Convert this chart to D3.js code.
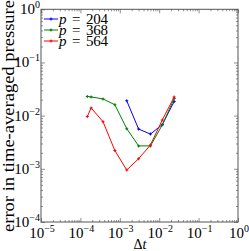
<!DOCTYPE html>
<html>
<head>
<meta charset="utf-8">
<script src="https://cdn.jsdelivr.net/npm/d3@7"></script>
<style>
  body { margin: 0; background: #fff; }
  svg { display: block; }
  text { font-family: "Liberation Serif", "DejaVu Serif", serif; fill: #000; }
</style>
</head>
<body>
<div id="chart"></div>
<script>
// time steps and errors
const dtLong = [1.5e-4, 1.875e-4, 3.75e-4, 7.5e-4, 1.5e-3, 3e-3, 6e-3, 1.2e-2, 2.4e-2]
const dtShort = [1.5e-3, 3e-3, 6e-3, 1.2e-2, 2.4e-2]

const err204 = [1.9e-2, 5.6e-3, 4.5e-3, 6.8e-3, 1.85e-2]
const err368 = [2.3e-2, 2.25e-2, 2.06e-2, 1.6e-2, 5.7e-3, 2.7e-3, 2.7e-3, 6.7e-3, 2.1e-2]
const err564 = [9.6e-3, 1.4e-2, 7.7e-3, 2.2e-3, 9.5e-4, 1.55e-3, 2.8e-3, 8.3e-3, 2.25e-2]

const seriesNames = ['204', '368', '564']
const seriesColors = ['#0000ff', '#008000', '#ff0000']

const xExps = [-5, -4, -3, -2, -1, 0]
const yExps = [-4, -3, -2, -1, 0]

const width = 249, height = 251
const plotLeft = 41, plotRight = 238, plotTop = 9.3, plotBottom = 222

const svg = d3.select('#chart').append('svg')
  .attr('width', width).attr('height', height)

const x = d3.scaleLog().domain([1e-5, 1]).range([plotLeft, plotRight])
const y = d3.scaleLog().domain([1e-4, 1]).range([plotBottom, plotTop])

// minor ticks 2..9 in each decade
function minors(exps) {
  const out = []
  exps.slice(0, -1).forEach(e => {
    for (let m = 2; m <= 9; m++) out.push(m * Math.pow(10, e))
  })
  return out
}
const xMajor = xExps.map(e => Math.pow(10, e))
const yMajor = yExps.map(e => Math.pow(10, e))

function tickAxis(axis, pos, values, size) {
  const g = svg.append('g')
    .attr('transform', pos)
    .call(axis.tickValues(values).tickSizeInner(-size).tickSizeOuter(0).tickFormat(''))
  g.select('.domain').remove()
  g.selectAll('line').attr('stroke', '#444').attr('stroke-width', 0.6)
}

tickAxis(d3.axisBottom(x), `translate(0,${plotBottom})`, xMajor, 4)
tickAxis(d3.axisBottom(x), `translate(0,${plotBottom})`, minors(xExps), 2)
tickAxis(d3.axisTop(x), `translate(0,${plotTop})`, xMajor, 4)
tickAxis(d3.axisTop(x), `translate(0,${plotTop})`, minors(xExps), 2)
tickAxis(d3.axisLeft(y), `translate(${plotLeft},0)`, yMajor, 4)
tickAxis(d3.axisLeft(y), `translate(${plotLeft},0)`, minors(yExps), 2)
tickAxis(d3.axisRight(y), `translate(${plotRight},0)`, yMajor, 4)
tickAxis(d3.axisRight(y), `translate(${plotRight},0)`, minors(yExps), 2)

svg.append('rect')
  .attr('x', plotLeft).attr('y', plotTop)
  .attr('width', plotRight - plotLeft).attr('height', plotBottom - plotTop)
  .attr('fill', 'none').attr('stroke', '#555').attr('stroke-width', 1)

function expLabel(sel, e) {
  sel.append('tspan').attr('font-size', 15).text('10')
  sel.append('tspan').attr('font-size', 10).attr('dy', -6)
    .text(e < 0 ? '\u2212' + (-e) : '' + e)
}

// x tick labels
svg.append('g').selectAll('text')
  .data(xExps)
  .enter()
  .append('text')
  .attr('x', d => x(Math.pow(10, d)) + 1)
  .attr('y', 238)
  .attr('text-anchor', 'middle')
  .each(function (d) { expLabel(d3.select(this), d) })

// y tick labels
svg.append('g').selectAll('text')
  .data(yExps)
  .enter()
  .append('text')
  .attr('x', 40)
  .attr('y', d => y(Math.pow(10, d)) + 5)
  .attr('text-anchor', 'end')
  .each(function (d) { expLabel(d3.select(this), d) })

// axis titles
svg.append('text')
  .attr('x', 140).attr('y', 249)
  .attr('text-anchor', 'middle')
  .attr('font-size', 14)
  .html('\u0394<tspan font-style="italic">t</tspan>')

svg.append('text')
  .attr('transform', 'translate(13.5,116) rotate(-90)')
  .attr('text-anchor', 'middle')
  .attr('font-size', 16)
  .attr('textLength', 232)
  .attr('lengthAdjust', 'spacingAndGlyphs')
  .text('error in time-averaged pressure')

// series
const series = [
  { dt: dtShort, err: err204 },
  { dt: dtLong, err: err368 },
  { dt: dtLong, err: err564 }
]

const line = d3.line()
  .x(d => x(d[0]))
  .y(d => y(d[1]))

series.forEach((s, i) => {
  const pts = s.dt.map((t, j) => [t, s.err[j]])
  svg.append('path')
    .attr('d', line(pts))
    .attr('fill', 'none')
    .attr('stroke', seriesColors[i])
    .attr('stroke-width', 1)
  svg.append('g').selectAll('path')
    .data(pts)
    .enter()
    .append('path')
    .attr('transform', d => `translate(${x(d[0])},${y(d[1])})`)
    .attr('d', d3.symbol(d3.symbolCross, 5)())
    .attr('fill', seriesColors[i])
})

// legend
const legend = svg.append('g')
seriesNames.forEach((name, i) => {
  const ly = 19 + i * 11
  legend.append('line')
    .attr('x1', 44).attr('x2', 58)
    .attr('y1', ly).attr('y2', ly)
    .attr('stroke', seriesColors[i]).attr('stroke-width', 1)
  legend.append('path')
    .attr('transform', `translate(51,${ly})`)
    .attr('d', d3.symbol(d3.symbolCross, 5)())
    .attr('fill', seriesColors[i])
  const t = legend.append('text').attr('y', ly + 5).attr('font-size', 15)
  t.append('tspan').attr('x', 59).attr('font-style', 'italic').text('p')
  t.append('tspan').attr('x', 72).text('=')
  t.append('tspan').attr('x', 86).attr('textLength', 22).text(name)
})
</script>
</body>
</html>
